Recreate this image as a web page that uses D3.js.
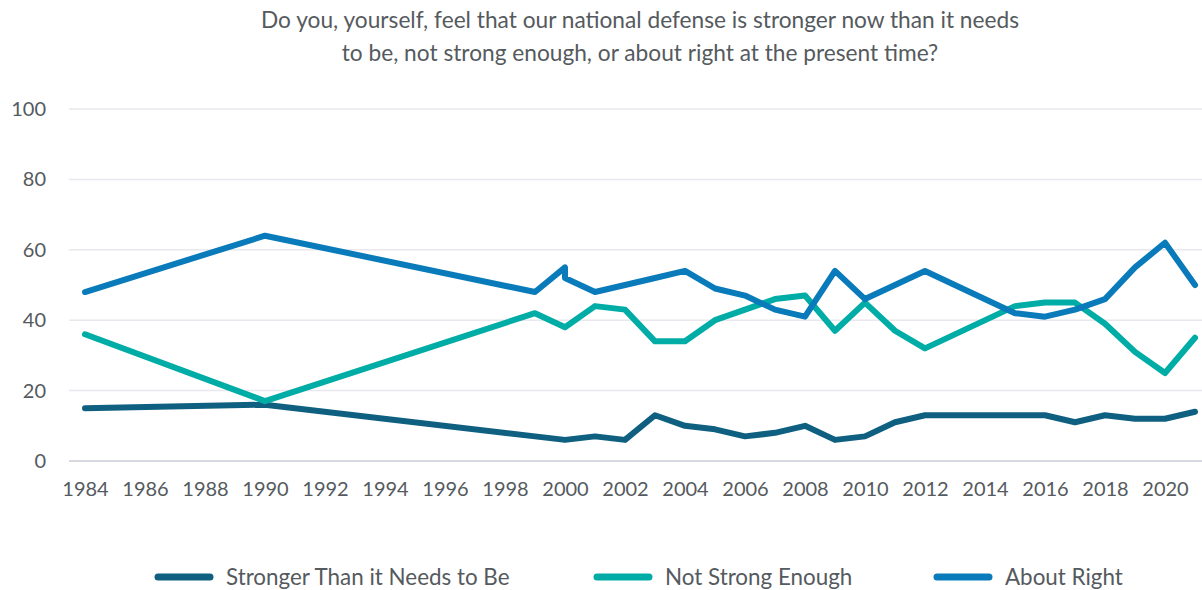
<!DOCTYPE html>
<html><head><meta charset="utf-8">
<script src="https://cdn.jsdelivr.net/npm/d3@7"></script>
<style>
html,body{margin:0;padding:0;background:#fff;}
svg{display:block;}
text{font-family:Lato,"Open Sans",sans-serif;}
</style></head>
<body>
<svg id="chart" width="1202" height="590"></svg>
<script>
const titleLines = ["Do you, yourself, feel that our national defense is stronger now than it needs",
                    "to be, not strong enough, or about right at the present time?"];
const years = [1984,1990,1999,2000,2000,2001,2002,2003,2004,2005,2006,2007,2008,2009,2010,2011,2012,2015,2016,2017,2018,2019,2020,2021];
const strongerThan = [15,16,7,6,6,7,6,13,10,9,7,8,10,6,7,11,13,13,13,11,13,12,12,14];
const notStrongEnough = [36,17,42,38,38,44,43,34,34,40,43,46,47,37,45,37,32,44,45,45,39,31,25,35];
const aboutRight = [48,64,48,55,52,48,50,52,54,49,47,43,41,54,46,50,54,42,41,43,46,55,62,50];
const seriesNames = ["Stronger Than it Needs to Be","Not Strong Enough","About Right"];
const seriesColors = ["#0f6080","#00aca6","#0a7bba"];
const yTicks = [0,20,40,60,80,100];
const xTicks = d3.range(1984,2021,2);

const series = [strongerThan, notStrongEnough, aboutRight].map((vals,i)=>({
  name: seriesNames[i], color: seriesColors[i],
  points: vals.map((v,j)=>({year: years[j], value: v}))
}));

const svg = d3.select("#chart");
const x = d3.scaleLinear().domain([1984,2021]).range([85,1195]);
const y = d3.scaleLinear().domain([0,100]).range([461,109]);

// title
svg.append("g").selectAll("text").data(titleLines).join("text")
  .attr("x",640).attr("y",(d,i)=>28+i*33)
  .attr("text-anchor","middle").attr("fill","#555a5e")
  .style("font-size","22.7px").text(d=>d);

// grid
svg.append("g").selectAll("line").data(yTicks).join("line")
  .attr("x1",69).attr("x2",1202)
  .attr("y1",d=>y(d)).attr("y2",d=>y(d))
  .attr("stroke",d=>d===0?"#c9ced6":"#e8e8ee").attr("stroke-width",1.5);

// y axis labels
const yAxis = d3.axisLeft(y).tickValues(yTicks).tickSize(0).tickPadding(0);
const gy = svg.append("g").attr("transform","translate(46,0)").call(yAxis);
gy.select(".domain").remove();
gy.selectAll("text").attr("fill","#555a5e").style("font-size","20px").style("font-family","Lato,sans-serif");

// x axis labels
const xAxis = d3.axisBottom(x).tickValues(xTicks).tickFormat(d3.format("d")).tickSize(0).tickPadding(0);
const gx = svg.append("g").attr("transform","translate(0,482)").call(xAxis);
gx.select(".domain").remove();
gx.selectAll("text").attr("fill","#555a5e").style("font-size","20px").style("font-family","Lato,sans-serif");

// lines
const line = d3.line().x(d=>x(d.year)).y(d=>y(d.value));
svg.append("g").selectAll("path").data(series).join("path")
  .attr("d",d=>line(d.points)).attr("fill","none")
  .attr("stroke",d=>d.color).attr("stroke-width",6)
  .attr("stroke-linecap","round").attr("stroke-linejoin","round");

// legend
const legendX = [158,597,937];
const lg = svg.append("g").selectAll("g").data(series).join("g")
  .attr("transform",(d,i)=>`translate(${legendX[i]},577)`);
lg.append("line").attr("x1",0).attr("x2",52).attr("y1",0).attr("y2",0)
  .attr("stroke",d=>d.color).attr("stroke-width",7).attr("stroke-linecap","round");
lg.append("text").attr("x",68).attr("y",7.5).attr("fill","#555a5e")
  .style("font-size","22.4px").text(d=>d.name);
</script>
</body></html>
